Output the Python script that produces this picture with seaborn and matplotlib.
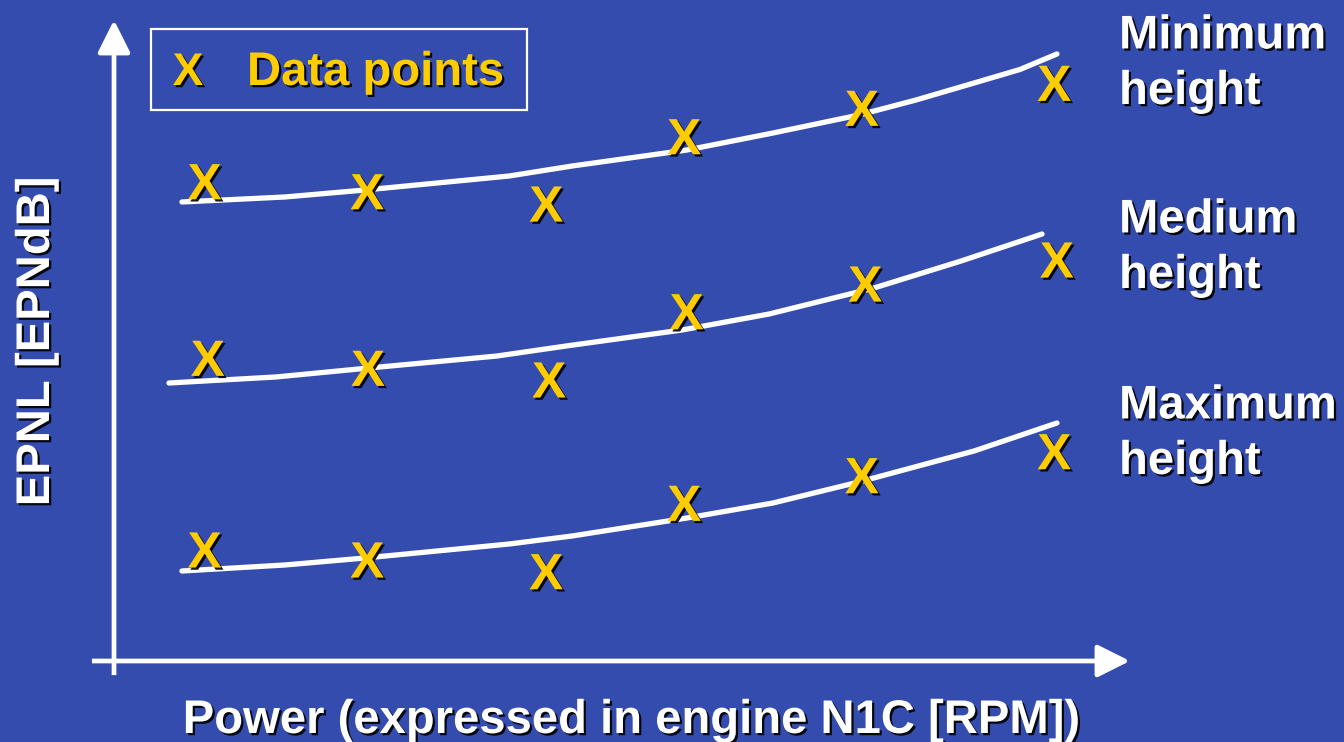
import numpy as np
import pandas as pd
import matplotlib
matplotlib.use("Agg")
import matplotlib.pyplot as plt
import matplotlib.patheffects as pe
from matplotlib.font_manager import FontProperties
from matplotlib.textpath import TextPath
from matplotlib.path import Path
from matplotlib.markers import MarkerStyle
from matplotlib.patches import Rectangle
import seaborn as sns

# Measured noise levels (axis-relative units: power and EPNL in % of axis span)
heights = ["Minimum height", "Medium height", "Maximum height"]
height_labels = ["Minimum\nheight", "Medium\nheight", "Maximum\nheight"]

min_power = [8.90, 24.90, 42.52, 56.10, 73.59, 92.52]
min_epnl = [74.77, 73.21, 71.29, 81.79, 86.22, 90.12]
med_power = [9.21, 24.98, 42.80, 56.34, 73.92, 92.78]
med_epnl = [47.22, 45.66, 43.84, 54.49, 58.81, 62.56]
max_power = [8.90, 24.90, 42.52, 56.10, 73.59, 92.52]
max_epnl = [17.32, 15.76, 13.93, 24.60, 28.91, 32.65]

# Trend curves fitted through each height's measurements
min_fit_power = [6.69, 16.83, 24.70, 38.88, 45.08, 56.40, 64.86, 73.33, 78.94, 84.65, 89.17, 92.81]
min_fit_epnl = [71.61, 72.39, 73.48, 75.66, 77.22, 79.72, 82.37, 85.18, 87.52, 90.17, 92.28, 94.70]
med_fit_power = [5.41, 15.94, 25.10, 37.70, 44.49, 55.91, 64.47, 74.80, 83.37, 91.34]
med_fit_epnl = [43.37, 44.31, 45.71, 47.58, 49.14, 51.64, 54.13, 58.19, 62.40, 66.61]
max_fit_power = [6.69, 16.83, 24.70, 38.88, 45.08, 56.40, 64.86, 73.33, 84.65, 92.81]
max_fit_epnl = [14.04, 14.98, 16.07, 18.25, 19.50, 22.31, 24.65, 27.93, 32.76, 37.13]

legend_label = "Data points"
x_title = "Power (expressed in engine N1C [RPM])"
y_title = "EPNL [EPNdB]"

BG = "#354CAF"
YELLOW = "#FFCC00"
WHITE = "#FFFFFF"
FONT = "Liberation Sans"

points = pd.concat([
    pd.DataFrame({"height": h, "power": p, "epnl": e})
    for h, p, e in zip(heights, [min_power, med_power, max_power],
                       [min_epnl, med_epnl, max_epnl])
], ignore_index=True)
curves = pd.concat([
    pd.DataFrame({"height": h, "power": p, "epnl": e})
    for h, p, e in zip(heights, [min_fit_power, med_fit_power, max_fit_power],
                       [min_fit_epnl, med_fit_epnl, max_fit_epnl])
], ignore_index=True)

sns.set_style("white")
plt.rcParams["font.family"] = [FONT, "DejaVu Sans"]
plt.rcParams["font.weight"] = "bold"

fig = plt.figure(figsize=(13.44, 7.42), dpi=100, facecolor=BG)
W, H = 1344, 742
ax = fig.add_axes([114 / W, (H - 661) / H, 1016 / W, 641 / H])
ax.set_xlim(0, 100)
ax.set_ylim(0, 100)
ax.axis("off")

shadow = [pe.withSimplePatchShadow(offset=(1.6, -1.6), shadow_rgbFace="black", alpha=0.9)]

# Axis arrows
arrow_kw = dict(arrowstyle="-|>,head_length=1.0,head_width=0.5", mutation_scale=20,
                color=WHITE, lw=3.4, shrinkA=0, shrinkB=0, capstyle="butt")
ax.annotate("", xy=(0, 1.0), xytext=(0, -0.022), xycoords="axes fraction",
            textcoords="axes fraction", arrowprops=arrow_kw)
ax.annotate("", xy=(1.0, 0), xytext=(-0.0217, 0), xycoords="axes fraction",
            textcoords="axes fraction", arrowprops=arrow_kw)

# Fitted curves
sns.lineplot(data=curves, x="power", y="epnl", units="height", estimator=None,
             sort=False, color=WHITE, linewidth=3.8, legend=False, ax=ax,
             solid_capstyle="round", solid_joinstyle="round")

# "X" marker built from the bold glyph, centred on the data point
fp = FontProperties(family=FONT, weight="bold")
tp = TextPath((0, 0), "X", prop=fp, size=10)
v = tp.vertices.copy()
v[:, 0] -= (v[:, 0].min() + v[:, 0].max()) / 2
v[:, 1] -= (v[:, 1].min() + v[:, 1].max()) / 2
x_marker = MarkerStyle(Path(v, tp.codes))

sns.scatterplot(data=points, x="power", y="epnl", marker=x_marker, s=640,
                color=YELLOW, linewidth=0, legend=False, ax=ax, zorder=4)
ax.collections[-1].set_path_effects(shadow)

# Legend box
fig.patches.append(Rectangle((151 / W, 1 - 110 / H), 376 / W, 81 / H,
                             transform=fig.transFigure, fill=False,
                             edgecolor=WHITE, linewidth=1.6))
fig.text(188 / W, 1 - 85 / H, "X", color=YELLOW, fontsize=33, ha="center",
         va="baseline", path_effects=shadow)
fig.text(247 / W, 1 - 85 / H, legend_label, color=YELLOW, fontsize=34,
         ha="left", va="baseline", path_effects=shadow)

# Height labels at the right (anchored on the baseline of the second line)
for lab, base in zip(height_labels, [104, 288, 474]):
    fig.text(1119 / W, 1 - base / H, lab, color=WHITE, fontsize=34, ha="left",
             va="baseline", linespacing=1.34, path_effects=shadow)

# Axis titles
fig.text(632 / W, 1 - 733 / H, x_title, color=WHITE, fontsize=34, ha="center",
         va="baseline", path_effects=shadow)
fig.text(37 / W, 1 - 341.5 / H, y_title, color=WHITE, fontsize=34, ha="center",
         va="center", rotation=90, path_effects=shadow)

fig.savefig("out.png", dpi=100, facecolor=BG)
